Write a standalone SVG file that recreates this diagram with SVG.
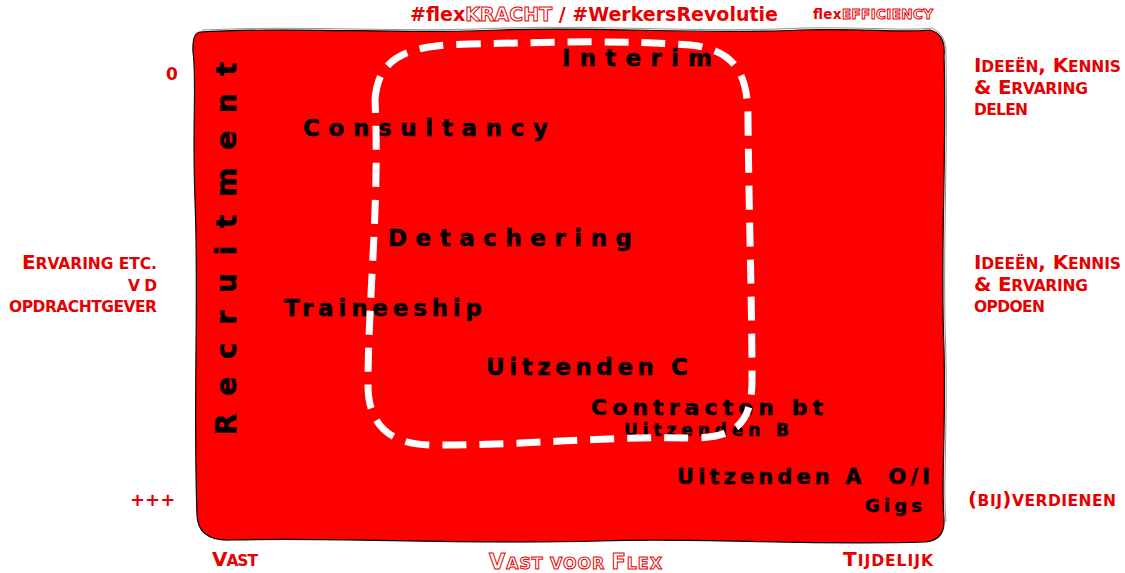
<svg xmlns="http://www.w3.org/2000/svg" width="1125" height="573" viewBox="0 0 1125 573">
<style>
.lbl{font-family:"DejaVu Sans",Verdana,sans-serif;font-weight:bold;fill:#e60000}
.out{fill:#fff;stroke:#e60000;stroke-width:1}
.nd{font-family:"DejaVu Sans",Verdana,sans-serif;font-weight:bold;fill:#000;stroke:#000;stroke-width:0.5}
</style>
<rect width="1125" height="573" fill="#fff"/>
<g id="field">
<path d="M200,32 C300,26 400,35 500,30 C600,26 700,35 800,30 C860,28 900,33 930,30 Q946,34 944,56 C947,150 940,250 944,350 C946,430 941,480 944,520 Q945,540 925,542 C800,546 700,537 600,541 C450,545 350,537 230,540 Q198,541 197,515 C193,400 199,300 195,200 C192,120 197,80 193,52 Q192,33 200,32 Z" fill="#ff0000" stroke="#000" stroke-width="1.2"/>
<path d="M202,30 C310,25 400,33 505,28 C610,25 700,33 805,28 C870,27 905,31 932,28 Q948,34 946,60 C948,160 942,260 946,360 C947,440 943,490 946,522" fill="none" stroke="#000" stroke-width="0.7" opacity="0.6"/>
</g>
<g id="nodes">
<g id="interim"><text class="nd" x="562" y="66" font-size="23" textLength="150">Interim</text></g>
<g id="consultancy"><text class="nd" x="303" y="136" font-size="23" textLength="245">Consultancy</text></g>
<g id="detachering"><text class="nd" x="388" y="246" font-size="23" textLength="244">Detachering</text></g>
<g id="traineeship"><text class="nd" x="284" y="316" font-size="23" textLength="198">Traineeship</text></g>
<g id="uitzendenC"><text class="nd" x="486" y="375" font-size="23" textLength="202">Uitzenden C</text></g>
<g id="contracten"><text class="nd" x="591" y="415" font-size="22" textLength="232">Contracten bt</text></g>
<g id="uitzendenB"><text class="nd" x="624" y="436" font-size="17" textLength="165">Uitzenden B</text></g>
<g id="uitzendenA"><text class="nd" x="677" y="484" font-size="21" textLength="253" xml:space="preserve">Uitzenden A  O/I</text></g>
<g id="gigs"><text class="nd" x="865" y="512" font-size="18" textLength="57">Gigs</text></g>
<g id="recruitment"><text class="nd" font-size="28" transform="translate(236,435) rotate(-90)" x="0" y="0" textLength="373">Recruitment</text></g>
</g>
<g id="connectors">
<path d="M375,100 C378,55 410,45 470,44 C560,42 620,40 690,45 C740,50 748,80 748,120 C749,220 752,300 752,380 C752,425 735,438 690,438 C600,436 520,446 430,445 C385,444 368,420 368,385 C368,300 380,200 375,100 Z" fill="none" stroke="#fff" stroke-width="7" stroke-dasharray="24,13"/>
</g>
<g id="labels">
<text class="lbl" x="594" y="21" font-size="19" text-anchor="middle">#flex<tspan class="out">KRACHT</tspan> / #WerkersRevolutie</text>
<text class="lbl" x="813" y="19" font-size="13.5" textLength="120">flex<tspan class="out">EFFICIENCY</tspan></text>
<text class="lbl" x="166" y="80" font-size="17">0</text>
<text class="lbl" font-size="20"><tspan x="974" y="72" textLength="147">I<tspan font-size="15.5">DEEËN</tspan>, K<tspan font-size="15.5">ENNIS</tspan></tspan><tspan x="974" y="94" textLength="114">&amp; E<tspan font-size="15.5">RVARING</tspan></tspan><tspan x="974" y="115" font-size="15.5" textLength="54">DELEN</tspan></text>
<text class="lbl" font-size="20"><tspan x="974" y="269" textLength="147">I<tspan font-size="15.5">DEEËN</tspan>, K<tspan font-size="15.5">ENNIS</tspan></tspan><tspan x="974" y="291" textLength="114">&amp; E<tspan font-size="15.5">RVARING</tspan></tspan><tspan x="974" y="312" font-size="15.5" textLength="71">OPDOEN</tspan></text>
<text class="lbl" font-size="20"><tspan x="22" y="269" textLength="135">E<tspan font-size="15.5">RVARING ETC.</tspan></tspan><tspan x="128" y="291" font-size="15.5" textLength="29">V D</tspan><tspan x="9" y="312" font-size="15.5" textLength="148">OPDRACHTGEVER</tspan></text>
<text class="lbl" x="130" y="506" font-size="18">+++</text>
<text class="lbl" x="968" y="506" font-size="20" textLength="148">(<tspan font-size="15.5">BIJ</tspan>)<tspan font-size="15.5">VERDIENEN</tspan></text>
<text class="lbl" x="212" y="566" font-size="20" textLength="46">V<tspan font-size="15.5">AST</tspan></text>
<text class="lbl out" x="489" y="569" font-size="21" textLength="173">V<tspan font-size="16">AST VOOR </tspan>F<tspan font-size="16">LEX</tspan></text>
<text class="lbl" x="843" y="566" font-size="20" textLength="90">T<tspan font-size="15.5">IJDELIJK</tspan></text>
</g>
</svg>
